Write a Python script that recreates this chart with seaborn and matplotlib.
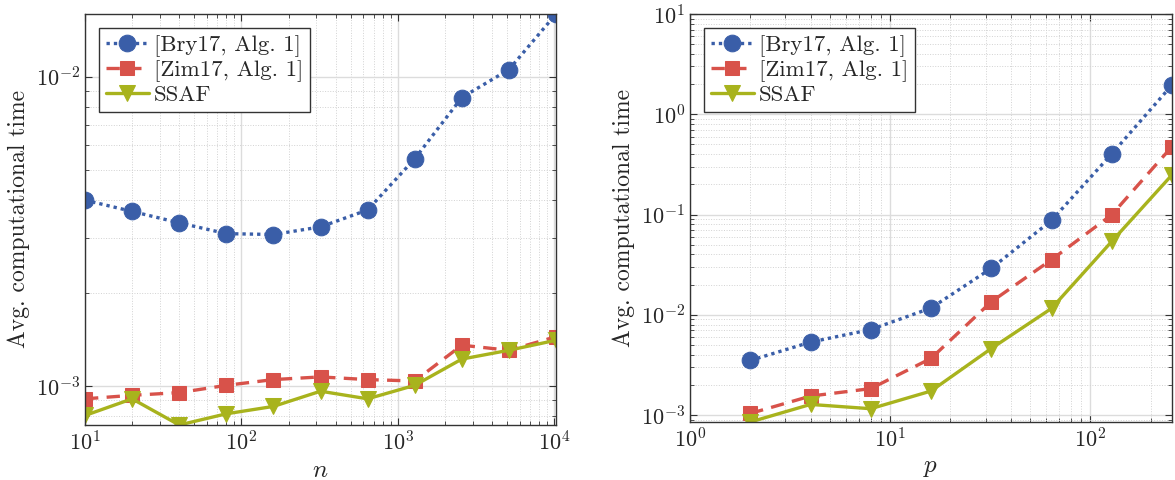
import numpy as np
import pandas as pd
import matplotlib
matplotlib.use("Agg")
import matplotlib.pyplot as plt
import seaborn as sns

# ===== Data =====
n_vals = [10, 20, 40, 80, 160, 320, 640, 1280, 2560, 5120, 10240]
bry_n = [3.99e-3, 3.67e-3, 3.37e-3, 3.11e-3, 3.09e-3, 3.27e-3, 3.71e-3, 5.43e-3, 8.57e-3, 1.055e-2, 1.596e-2]
zim_n = [9.09e-4, 9.33e-4, 9.52e-4, 1.005e-3, 1.049e-3, 1.07e-3, 1.049e-3, 1.038e-3, 1.355e-3, 1.305e-3, 1.443e-3]
ssaf_n = [8.03e-4, 9.09e-4, 7.48e-4, 8.13e-4, 8.59e-4, 9.62e-4, 9.09e-4, 1.005e-3, 1.222e-3, 1.305e-3, 1.406e-3]

p_vals = [2, 4, 8, 16, 32, 64, 128, 256]
bry_p = [3.51e-3, 5.35e-3, 7.14e-3, 1.17e-2, 2.91e-2, 8.75e-2, 0.403, 1.96]
zim_p = [1.04e-3, 1.55e-3, 1.84e-3, 3.68e-3, 1.35e-2, 3.55e-2, 0.0996, 0.477]
ssaf_p = [8.55e-4, 1.28e-3, 1.16e-3, 1.74e-3, 4.62e-3, 1.16e-2, 0.054, 0.249]

labels = ["[Bry17, Alg. 1]", "[Zim17, Alg. 1]", "SSAF"]
colors = ["#3a5ea8", "#d8524a", "#a8b31d"]
markers = ["o", "s", "v"]
dashes = [(1, 1.2), (4, 2.5), ""]

sns.set_style("ticks")
plt.rcParams["font.family"] = ["cmr10", "DejaVu Serif"]
plt.rcParams["mathtext.fontset"] = "cm"
plt.rcParams["axes.formatter.use_mathtext"] = True


def draw(ax, x, series, xlabel, xlim, ylim):
    for y, lab, c, m, d in zip(series, labels, colors, markers, dashes):
        df = pd.DataFrame({"x": x, "y": y})
        sns.lineplot(data=df, x="x", y="y", ax=ax, color=c, marker=m,
                     markersize=12 if m != "s" else 10,
                     markeredgecolor=c, linewidth=2.4, label=lab)
        ln = ax.lines[-1]
        if d:
            ln.set_dashes(d)
    ax.set_xscale("log")
    ax.set_yscale("log")
    ax.set_xlim(*xlim)
    ax.set_ylim(*ylim)
    ax.grid(which="major", color="#dcdcdc", linewidth=1.0, linestyle="-")
    ax.grid(which="minor", color="#d2d2d2", linewidth=0.7, linestyle=":")
    ax.set_axisbelow(True)
    ax.tick_params(which="both", direction="in", top=True, right=True,
                   labelsize=16, color="#333333")
    ax.tick_params(which="major", length=5)
    ax.tick_params(which="minor", length=3)
    for s in ax.spines.values():
        s.set_color("#333333")
        s.set_linewidth(1.0)
    ax.set_xlabel(xlabel, fontsize=18)
    ax.set_ylabel("Avg. computational time", fontsize=17)
    leg = ax.legend(loc="upper left", fontsize=16.5, frameon=True, fancybox=False,
                    edgecolor="#333333", handlelength=1.9, handletextpad=0.2,
                    borderpad=0.3, labelspacing=0.15, borderaxespad=0.6)
    leg.get_frame().set_linewidth(1.0)
    leg.get_frame().set_alpha(1)


fig = plt.figure(figsize=(11.75, 4.8), dpi=100)
ax1 = fig.add_axes([85 / 1175, 55 / 480, 471 / 1175, 411 / 480])
ax2 = fig.add_axes([690 / 1175, 58 / 480, 482 / 1175, 408 / 480])

draw(ax1, n_vals, [bry_n, zim_n, ssaf_n], "$n$", (10, 10240), (min(ssaf_n), max(bry_n)))
draw(ax2, p_vals, [bry_p, zim_p, ssaf_p], "$p$", (1, 256), (min(ssaf_p), 10))

fig.savefig("out.png", dpi=100)
